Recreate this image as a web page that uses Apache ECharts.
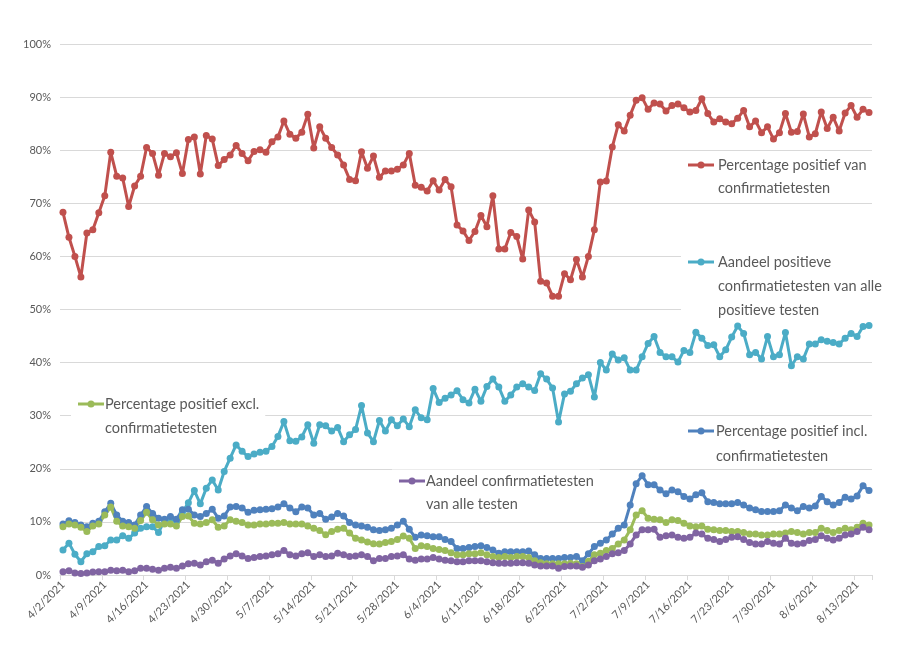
<!DOCTYPE html>
<html>
<head>
<meta charset="utf-8">
<script src="https://cdn.jsdelivr.net/npm/echarts@6/dist/echarts.min.js"></script>
<style>html,body{margin:0;padding:0;background:#fff}#chart{width:923px;height:646px}</style>
</head>
<body>
<div id="chart"></div>
<script>
// ---- Data ----
const startDate = [2021, 4, 2];   // 4/2/2021, one category per day
const dayCount = 136;             // through 8/15/2021
const yTicks = [0, 10, 20, 30, 40, 50, 60, 70, 80, 90, 100];

const nameRed = 'Percentage positief van\nconfirmatietesten';
const nameCyan = 'Aandeel positieve\nconfirmatietesten van alle\npositieve testen';
const nameGreen = 'Percentage positief excl.\nconfirmatietesten';
const nameBlue = 'Percentage positief incl.\nconfirmatietesten';
const namePurple = 'Aandeel confirmatietesten\nvan alle testen';

const redVals = [
 68.3,63.6,60.0,56.1,64.4,65.0,68.2,71.4,79.6,75.1,74.75,69.4,73.25,75.1,80.5,79.4,75.3,79.4,78.75,79.5,
 75.6,82.0,82.5,75.5,82.75,82.1,77.1,78.25,79.1,80.9,79.4,78.0,79.75,80.1,79.6,81.6,82.5,85.5,83.0,82.25,
 83.4,86.75,80.4,84.4,82.25,80.5,79.1,77.2,74.5,74.25,79.7,76.6,78.9,74.9,76.1,76.1,76.4,77.2,79.4,73.4,
 73.0,72.3,74.25,72.5,74.5,73.1,65.9,64.8,63.0,64.7,67.7,65.6,71.4,61.4,61.4,64.5,63.75,59.5,68.75,66.5,
 55.3,55.0,52.5,52.5,56.75,55.6,59.4,56.1,60.0,65.0,74.0,74.2,80.6,84.8,83.6,86.6,89.4,89.9,87.7,88.9,
 88.7,87.4,88.4,88.7,88.0,87.2,87.5,89.7,86.9,85.3,85.9,85.3,85.0,86.0,87.5,84.4,85.5,83.3,84.4,82.1,
 83.3,86.9,83.4,83.5,86.8,82.5,83.1,87.2,84.1,86.2,83.6,87.0,88.4,86.2,87.7,87.1];

const cyanVals = [
 4.7,6.0,3.9,2.5,4.0,4.4,5.35,5.5,6.6,6.6,7.4,6.9,7.9,8.8,9.1,9.1,8.0,10.3,10.6,10.2,
 11.8,13.6,15.9,13.4,16.35,17.9,16.0,19.5,22.0,24.5,23.3,22.3,22.8,23.1,23.3,24.2,26.1,28.9,25.3,25.2,
 26.0,28.3,24.8,28.3,28.1,27.1,27.8,25.1,26.4,27.4,31.9,26.75,25.1,29.1,27.1,29.25,28.1,29.4,27.9,31.1,
 29.6,29.25,35.1,32.5,33.3,33.9,34.7,33.0,32.4,35.0,32.7,35.5,36.9,35.4,32.7,33.9,35.4,36.0,35.4,34.75,
 37.9,36.9,35.2,28.8,34.1,34.6,36.0,37.1,37.7,33.5,40.0,38.6,41.6,40.5,40.9,38.6,38.6,41.1,43.6,44.9,
 41.9,41.1,41.1,40.1,42.3,41.9,45.7,44.6,43.2,43.35,41.1,42.4,44.8,46.9,45.5,41.5,41.9,40.7,44.9,41.1,
 41.5,45.65,39.4,41.1,40.7,43.5,43.5,44.3,44.0,43.8,43.5,44.6,45.5,44.9,46.8,47.0];

const blueVals = [
 9.6,10.2,9.9,9.4,9.1,9.75,10.1,11.9,13.5,11.3,10.1,9.9,9.4,11.3,12.9,11.6,10.7,10.5,11.0,10.5,
 12.3,12.4,11.3,11.0,11.6,12.4,10.7,11.1,12.8,12.9,12.6,11.8,12.2,12.3,12.4,12.5,12.8,13.4,12.6,11.9,
 12.8,12.6,11.3,11.6,10.5,10.9,11.6,11.1,9.9,9.4,9.25,9.0,8.5,8.4,8.5,8.8,9.4,10.1,8.6,7.1,
 7.55,7.4,7.2,7.2,6.7,6.3,5.0,5.0,5.2,5.35,5.5,5.2,4.7,4.1,4.4,4.4,4.4,4.4,4.5,3.8,
 3.1,3.1,3.1,3.1,3.3,3.3,3.5,2.7,4.0,5.35,6.0,6.6,7.7,8.8,9.4,13.2,17.2,18.7,17.0,17.0,
 16.0,15.3,16.0,15.7,14.8,14.3,15.1,15.5,13.8,13.65,13.4,13.4,13.4,13.65,13.2,12.6,12.3,11.95,11.95,11.95,
 12.1,13.2,12.6,12.1,12.9,12.6,13.0,14.8,13.8,13.2,13.65,14.65,14.3,14.9,16.8,15.9];

const greenVals = [
 9.1,9.6,9.4,9.0,8.2,9.25,9.6,11.3,12.8,10.1,9.25,9.1,8.8,10.25,11.8,10.4,9.4,9.6,9.6,9.25,
 11.0,11.1,9.75,9.6,9.9,10.4,9.0,9.25,10.4,10.1,9.9,9.4,9.4,9.6,9.6,9.75,9.75,9.9,9.6,9.6,
 9.6,9.25,8.8,8.4,7.6,8.2,8.6,8.8,7.9,6.9,6.6,6.2,5.9,5.85,6.1,6.3,6.7,7.35,6.9,5.0,
 5.5,5.35,5.0,4.8,4.6,4.2,3.8,3.8,4.0,4.0,4.2,3.8,3.5,3.3,3.5,3.3,3.5,3.5,3.3,2.7,
 2.3,2.1,2.1,2.1,2.1,2.2,2.1,1.6,2.6,3.8,4.1,4.6,5.0,5.85,6.6,8.5,11.3,12.1,10.7,10.5,
 10.4,9.9,10.4,10.25,9.75,9.25,9.1,9.25,8.6,8.5,8.4,8.4,8.2,8.2,8.0,7.7,7.7,7.55,7.55,7.7,
 7.7,7.9,8.2,8.0,7.7,8.0,8.0,8.8,8.4,8.0,8.4,8.8,8.5,9.0,9.75,9.4];

const purpleVals = [
 0.6,0.8,0.4,0.3,0.4,0.55,0.6,0.6,0.9,0.8,0.9,0.6,0.8,1.25,1.25,1.1,0.9,1.25,1.45,1.25,
 1.7,2.1,2.2,1.9,2.5,2.8,2.2,3.0,3.6,4.0,3.6,3.1,3.3,3.5,3.6,3.8,4.0,4.6,3.8,3.6,
 4.0,4.2,3.5,3.8,3.5,3.6,4.1,3.8,3.5,3.6,3.8,3.5,2.7,3.1,3.1,3.5,3.6,3.8,3.0,2.8,
 3.0,3.0,3.3,3.0,2.8,2.7,2.5,2.5,2.7,2.7,2.7,2.5,2.3,2.2,2.2,2.2,2.3,2.3,2.2,1.9,
 1.7,1.7,1.7,1.25,1.6,1.7,1.7,1.45,1.9,2.7,3.0,3.5,4.0,4.2,4.6,5.85,7.55,8.5,8.5,8.6,
 7.1,7.4,7.55,7.1,6.9,7.1,7.9,7.7,6.9,6.7,6.3,6.7,7.1,7.2,6.7,6.1,5.85,5.85,6.3,6.0,
 5.85,6.9,6.0,5.85,6.0,6.5,6.7,7.4,6.9,6.6,6.9,7.55,7.7,8.2,9.0,8.5];

// ---- Categories ----
const categories = [];
for (let i = 0; i < dayCount; i++) {
  const d = new Date(Date.UTC(startDate[0], startDate[1] - 1, startDate[2] + i));
  categories.push((d.getUTCMonth() + 1) + '/' + d.getUTCDate() + '/' + d.getUTCFullYear());
}

const COLORS = { red: '#c0504d', cyan: '#4bacc6', blue: '#4f81bd', green: '#9bbb59', purple: '#8064a2' };
const FONT = 'Lato, "Open Sans", sans-serif';
const TEXT_COLOR = '#595959';

function mkSeries(name, data, color) {
  return {
    name: name, type: 'line', data: data,
    symbol: 'circle', symbolSize: 7, showSymbol: true, showAllSymbol: true,
    lineStyle: { width: 3, color: color },
    itemStyle: { color: color },
    emphasis: { disabled: true },
    animation: false
  };
}

// in-plot legend entries (icon + text on a white box)
function legendItem(iconX, lineY, textX, text, color, lh) {
  return {
    type: 'group',
    children: [
      { type: 'text', z: 1, x: iconX - 7, y: lineY - lh / 2,
        style: { text: text, font: '14.5px ' + FONT, fill: TEXT_COLOR, lineHeight: lh,
                 backgroundColor: '#ffffff', padding: [0, 6, 0, textX - iconX + 7],
                 verticalAlign: 'top', align: 'left' } },
      { type: 'line', z: 5, shape: { x1: iconX, y1: lineY, x2: iconX + 26, y2: lineY },
        style: { stroke: color, lineWidth: 3 } },
      { type: 'circle', z: 6, shape: { cx: iconX + 13, cy: lineY, r: 3.5 },
        style: { fill: color } }
    ]
  };
}

const chart = echarts.init(document.getElementById('chart'), null, { renderer: 'canvas' });
chart.setOption({
  backgroundColor: '#ffffff',
  animation: false,
  grid: { left: 60, right: 51, top: 44, bottom: 71, containLabel: false },
  xAxis: {
    type: 'category', data: categories, boundaryGap: true,
    axisLine: { lineStyle: { color: '#d9d9d9', width: 1 } },
    axisTick: { show: true, interval: 6, length: 5, lineStyle: { color: '#d9d9d9' } },
    axisLabel: { interval: 6, rotate: 45, color: TEXT_COLOR, fontSize: 11, fontFamily: FONT, margin: 8 },
    splitLine: { show: false }
  },
  yAxis: {
    type: 'value', min: yTicks[0], max: yTicks[yTicks.length - 1], interval: yTicks[1] - yTicks[0],
    axisLine: { show: false }, axisTick: { show: false },
    axisLabel: { formatter: '{value}%', color: TEXT_COLOR, fontSize: 11, fontFamily: FONT, margin: 9 },
    splitLine: { lineStyle: { color: '#d9d9d9', width: 1 } }
  },
  series: [
    mkSeries(nameRed, redVals, COLORS.red),
    mkSeries(nameCyan, cyanVals, COLORS.cyan),
    mkSeries(nameBlue, blueVals, COLORS.blue),
    mkSeries(nameGreen, greenVals, COLORS.green),
    mkSeries(namePurple, purpleVals, COLORS.purple)
  ],
  graphic: { elements: [
    legendItem(688, 165, 718, nameRed, COLORS.red, 23),
    legendItem(688, 262, 718, nameCyan, COLORS.cyan, 24),
    legendItem(78, 404, 105, nameGreen, COLORS.green, 24),
    legendItem(688, 431, 716, nameBlue, COLORS.blue, 25),
    legendItem(399, 481, 426, namePurple, COLORS.purple, 23)
  ] }
});
</script>
</body>
</html>
